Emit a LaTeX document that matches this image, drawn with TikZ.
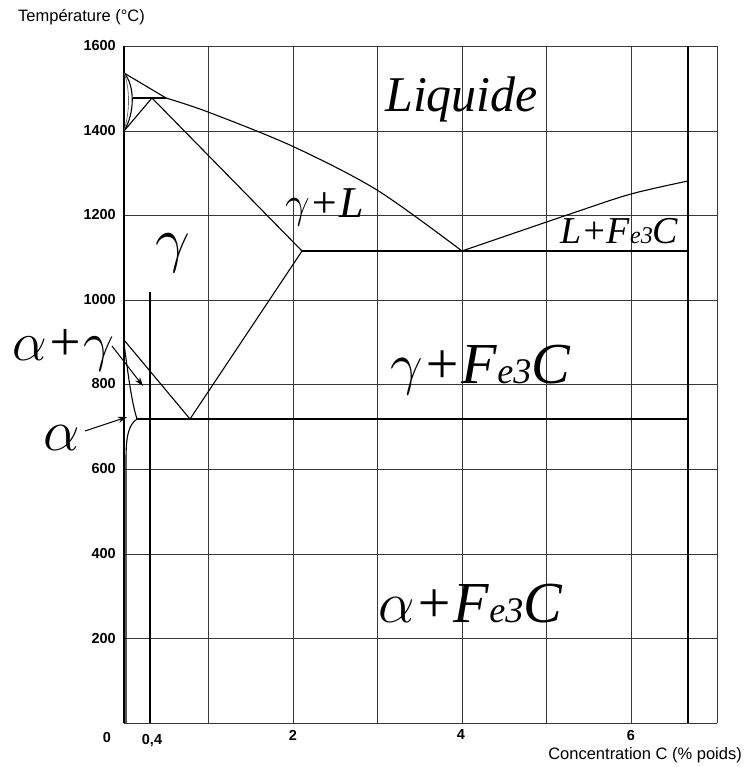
\RequirePackage{fix-cm}
\documentclass[tikz,border=0pt]{standalone}
\usepackage{fontspec}
\setmainfont{Liberation Serif}
\newfontfamily\axf{Liberation Sans}
\newfontfamily\axb{Liberation Sans Bold}
\usetikzlibrary{arrows.meta}
\newcommand\FeC[1]{\textit{F}{\fontsize{#1}{#1}\selectfont\textit{e3}}C}
\begin{document}
\begin{tikzpicture}[x=1pt,y=-1pt,
  gridline/.style={draw=black!78, line width=0.9pt},
  phase/.style={draw=black, line width=1.1pt},
  ticklab/.style={font=\axb\fontsize{14.5}{14.5}\selectfont, inner sep=0pt},
  axtitle/.style={font=\axf\fontsize{16.5}{16.5}\selectfont, inner sep=0pt},
  big/.style={inner sep=0pt, anchor=base west},
  pointer/.style={draw=black, line width=1pt, -{Stealth[length=9pt,width=6pt]}}
  ]
\useasboundingbox (0,0) rectangle (744,767);
% grid
\foreach \x in {208.5,293,377.5,462,546.5,631,717}
  \draw[gridline] (\x,46) -- (\x,723);
\foreach \y in {46,131,215,300,384,469,554,638,723}
  \draw[gridline] (124,\y) -- (717,\y);
\draw[black, line width=1.3pt] (124,46) -- (124,723);
% Fe3C vertical and 0.4 line
\draw[black, line width=2.2pt] (688,46) -- (688,723);
\draw[black, line width=2.8pt] (150,292) -- (150,723);
% key points
\coordinate (TF) at (124,73);
\coordinate (Pd) at (133,98);
\coordinate (Pg) at (152,98);
\coordinate (Pl) at (166,98);
\coordinate (G) at (124,131);
\coordinate (Ea) at (302,251);
\coordinate (E) at (462,251);
\coordinate (Eb) at (688,251);
\coordinate (Lc) at (688,181);
\coordinate (A3) at (124,340);
\coordinate (S) at (190,419);
\coordinate (Sa) at (137,419);
\coordinate (Sb) at (688,419);
\coordinate (Aa) at (124,344);
% liquidus
\draw[phase] (TF) -- (Pl);
\draw[phase] plot[smooth] coordinates {(166,98) (208,112) (292,146) (377,190) (462,251)};
\draw[phase] plot[smooth] coordinates {(462,251) (573,213) (631,194) (688,181)};
% delta lens
\draw[phase] (TF) .. controls (135,85) and (135,113) .. (G);
\draw[black!60, line width=0.7pt] (TF) .. controls (130,88) and (130,112) .. (G);
\draw[phase] (Pd) -- (Pl);
\draw[phase] (Pg) -- (G);
% solidus, Acm, A3
\draw[phase] (Pg) -- (Ea);
\draw[phase] (Ea) -- (Eb);
\draw[phase] (Ea) -- (S);
\draw[phase] (A3) -- (S);
\draw[phase] (Aa) .. controls (128,372) and (131,400) .. (Sa);
\draw[phase] (Sa) -- (Sb);
\draw[phase] (Sa) .. controls (128,425) and (126,438) .. (126,460) -- (126,723);
% tick labels
\foreach \v/\y in {1600/46,1400/131,1200/215,1000/300,800/384,600/469,400/554,200/638}
  \node[ticklab, anchor=east] (t\v) at (116,\y) {\v};
\node[ticklab] (t0) at (107,737) {0};
\node[ticklab] (x04) at (152,741) {0,4};
\node[ticklab] (x2) at (293,735) {2};
\node[ticklab] (x4) at (461,735) {4};
\node[ticklab] (x6) at (631,735) {6};
\node[axtitle, anchor=west] (ytitle) at (18,17) {Température (°C)};
\node[axtitle, anchor=east] (xtitle) at (742,755) {Concentration C (\% poids)};
% phase labels
\node[big] (liq) at (385,112) {\fontsize{50}{50}\selectfont\itshape Liquide};
\node[big] (gL) at (285,218) {\fontsize{44}{44}\selectfont\itshape $\gamma$+L};
\node[big] (LF) at (560,243) {\fontsize{38}{38}\selectfont\itshape L+\FeC{24}};
\node[big] (gF) at (390,383) {\fontsize{58}{58}\selectfont\itshape $\gamma$+\FeC{36}};
\node[big] (aF) at (378,622) {\fontsize{58}{58}\selectfont\itshape $\alpha$+\FeC{36}};
\node[big] (ag) at (12,360) {\fontsize{55}{55}\selectfont\itshape $\alpha$+$\gamma$};
\node[big] (al) at (43,450) {\fontsize{58}{58}\selectfont\itshape $\alpha$};
\node[big] (gm) at (155,260) {\fontsize{62}{62}\selectfont\itshape $\gamma$};
% pointers
\coordinate (agFrom) at (112,346);
\coordinate (agTo) at (143,386);
\coordinate (alFrom) at (85,431);
\coordinate (alTo) at (127,417);
\draw[pointer] (agFrom) -- (agTo);
\draw[pointer] (alFrom) -- (alTo);
\end{tikzpicture}
\end{document}
